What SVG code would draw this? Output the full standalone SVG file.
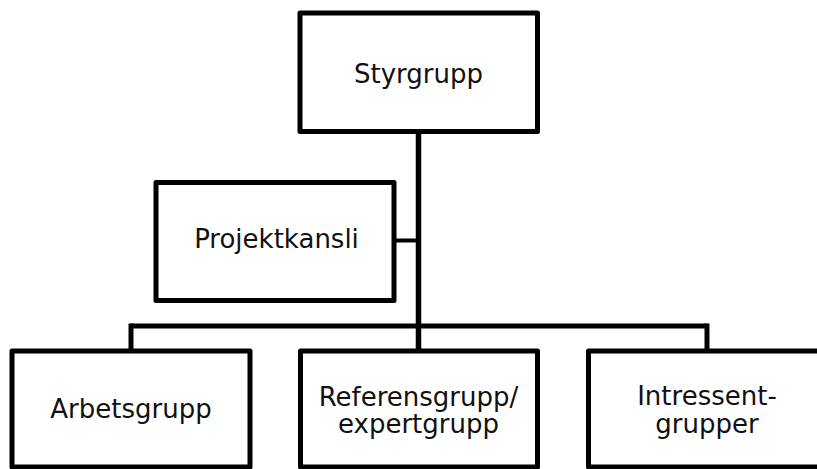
<svg xmlns="http://www.w3.org/2000/svg" width="817" height="469" viewBox="0 0 817 469">
  <style>
    .box { fill: #ffffff; stroke: #000000; stroke-width: 5; stroke-linejoin: round; }
    .lbl { font-family: "DejaVu Sans", Verdana, sans-serif; font-size: 26px; fill: #111111; text-anchor: middle; }
    .conn { stroke: #000000; fill: none; stroke-width: 5; }
  </style>
  <rect width="817" height="469" fill="#ffffff"/>
  <g id="connectors">
    <line class="conn" x1="418.5" y1="131" x2="418.5" y2="351" style="stroke-width:5.5"/>
    <line class="conn" x1="394" y1="240.5" x2="418.5" y2="240.5" style="stroke-width:4"/>
    <line class="conn" x1="131" y1="326" x2="707" y2="326"/>
    <line class="conn" x1="131" y1="323.5" x2="131" y2="351"/>
    <line class="conn" x1="707" y1="323.5" x2="707" y2="351"/>
  </g>
  <g id="styrgrupp">
    <rect class="box" x="300" y="13" width="237.5" height="118.5"/>
    <text class="lbl" x="418.5" y="82.5">Styrgrupp</text>
  </g>
  <g id="projektkansli">
    <rect class="box" x="156" y="182.5" width="238" height="118"/>
    <text class="lbl" x="276.5" y="248">Projektkansli</text>
  </g>
  <g id="arbetsgrupp">
    <rect class="box" x="12" y="351" width="238" height="116"/>
    <text class="lbl" x="131" y="418">Arbetsgrupp</text>
  </g>
  <g id="referensgrupp">
    <rect class="box" x="300.5" y="351" width="237" height="116"/>
    <text class="lbl" x="418.5" y="405.5">Referensgrupp/</text>
    <text class="lbl" x="418.5" y="433">expertgrupp</text>
  </g>
  <g id="intressentgrupper">
    <rect class="box" x="588.5" y="351" width="238" height="116"/>
    <text class="lbl" x="707" y="405">Intressent-</text>
    <text class="lbl" x="707" y="432.5">grupper</text>
  </g>
</svg>
